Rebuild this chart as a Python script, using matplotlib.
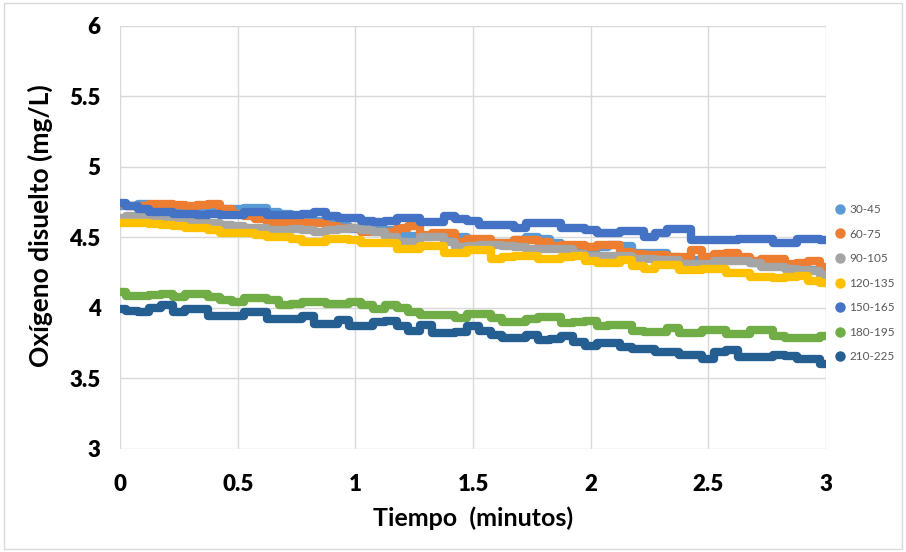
import numpy as np
import matplotlib
matplotlib.use("Agg")
import matplotlib.pyplot as plt
from matplotlib.lines import Line2D
from matplotlib.patches import Rectangle

plt.rcParams['font.family'] = ['Lato', 'DejaVu Sans']

# Time axis (minutes), one reading every 0.05 min
tiempo = np.round(np.arange(0, 3.0001, 0.05), 2)

labels = ["30-45", "60-75", "90-105", "120-135", "150-165", "180-195", "210-225"]
colors = ["#5B9BD5", "#ED7D31", "#A5A5A5", "#FFC000", "#4472C4", "#70AD47", "#255E91"]

od_30_45 = [4.72, 4.72, 4.74, 4.73, 4.71, 4.72, 4.70, 4.70, 4.69, 4.70,
            4.70, 4.71, 4.71, 4.68, 4.67, 4.65, 4.63, 4.62, 4.60, 4.58,
            4.56, 4.56, 4.55, 4.55, 4.52, 4.51, 4.50, 4.51, 4.49, 4.50,
            4.48, 4.47, 4.46, 4.46, 4.48, 4.505, 4.49, 4.46, 4.44, 4.42,
            4.42, 4.43, 4.45, 4.44, 4.39, 4.39, 4.39, 4.36, 4.35, 4.34,
            4.35, 4.34, 4.34, 4.34, 4.32, 4.31, 4.30, 4.29, 4.27, 4.27,
            4.26]
od_60_75 = [4.74, 4.72, 4.72, 4.74, 4.74, 4.73, 4.72, 4.73, 4.74, 4.70,
            4.67, 4.65, 4.63, 4.61, 4.61, 4.62, 4.60, 4.60, 4.58, 4.565,
            4.565, 4.54, 4.54, 4.54, 4.57, 4.585, 4.52, 4.53, 4.53, 4.47,
            4.49, 4.49, 4.46, 4.46, 4.48, 4.48, 4.47, 4.44, 4.45, 4.45,
            4.43, 4.45, 4.45, 4.40, 4.38, 4.375, 4.375, 4.36, 4.36, 4.41,
            4.36, 4.38, 4.39, 4.36, 4.33, 4.35, 4.35, 4.31, 4.32, 4.33,
            4.29]
od_90_105 = [4.64, 4.65, 4.65, 4.65, 4.63, 4.61, 4.61, 4.60, 4.60, 4.59,
             4.58, 4.57, 4.57, 4.55, 4.55, 4.56, 4.55, 4.54, 4.55, 4.56,
             4.57, 4.55, 4.54, 4.50, 4.47, 4.47, 4.50, 4.505, 4.47, 4.435,
             4.44, 4.45, 4.45, 4.44, 4.43, 4.42, 4.42, 4.42, 4.42, 4.38,
             4.37, 4.37, 4.37, 4.37, 4.35, 4.35, 4.34, 4.34, 4.31, 4.31,
             4.31, 4.33, 4.33, 4.33, 4.32, 4.29, 4.29, 4.28, 4.27, 4.26,
             4.235]
od_120_135 = [4.60, 4.60, 4.60, 4.595, 4.59, 4.58, 4.565, 4.565, 4.55, 4.53,
              4.53, 4.53, 4.52, 4.505, 4.50, 4.49, 4.47, 4.47, 4.49, 4.49,
              4.48, 4.46, 4.46, 4.46, 4.42, 4.42, 4.44, 4.44, 4.39, 4.39,
              4.41, 4.41, 4.35, 4.36, 4.37, 4.37, 4.35, 4.35, 4.36, 4.37,
              4.33, 4.32, 4.32, 4.34, 4.30, 4.28, 4.305, 4.305, 4.27, 4.27,
              4.28, 4.28, 4.245, 4.245, 4.22, 4.22, 4.21, 4.22, 4.225, 4.19,
              4.175]
od_150_165 = [4.745, 4.72, 4.70, 4.68, 4.68, 4.67, 4.67, 4.66, 4.67, 4.66,
              4.66, 4.68, 4.68, 4.66, 4.66, 4.66, 4.67, 4.68, 4.65, 4.64,
              4.64, 4.62, 4.61, 4.62, 4.64, 4.64, 4.61, 4.61, 4.65, 4.63,
              4.62, 4.59, 4.59, 4.59, 4.57, 4.60, 4.60, 4.60, 4.57, 4.57,
              4.55, 4.53, 4.53, 4.545, 4.545, 4.505, 4.53, 4.56, 4.56, 4.48,
              4.48, 4.48, 4.48, 4.49, 4.49, 4.49, 4.46, 4.46, 4.49, 4.49,
              4.48]
od_180_195 = [4.115, 4.085, 4.085, 4.09, 4.10, 4.075, 4.10, 4.10, 4.075, 4.06,
              4.04, 4.07, 4.07, 4.055, 4.02, 4.025, 4.045, 4.045, 4.03, 4.03,
              4.04, 4.02, 3.99, 4.02, 4.00, 3.97, 3.95, 3.95, 3.95, 3.93,
              3.955, 3.955, 3.93, 3.90, 3.90, 3.92, 3.935, 3.935, 3.895, 3.90,
              3.91, 3.87, 3.88, 3.88, 3.84, 3.83, 3.83, 3.855, 3.82, 3.82,
              3.845, 3.845, 3.815, 3.815, 3.845, 3.845, 3.80, 3.785, 3.785, 3.79,
              3.80]
od_210_225 = [3.99, 3.98, 3.97, 4.00, 4.02, 3.97, 3.99, 3.99, 3.94, 3.94,
              3.94, 3.97, 3.97, 3.92, 3.92, 3.92, 3.94, 3.89, 3.89, 3.915,
              3.87, 3.87, 3.90, 3.91, 3.87, 3.84, 3.88, 3.82, 3.82, 3.83,
              3.87, 3.84, 3.81, 3.79, 3.79, 3.81, 3.77, 3.78, 3.80, 3.76,
              3.73, 3.75, 3.75, 3.72, 3.71, 3.71, 3.69, 3.69, 3.67, 3.67,
              3.64, 3.69, 3.70, 3.65, 3.65, 3.65, 3.67, 3.66, 3.64, 3.64,
              3.60]

series = [od_30_45, od_60_75, od_90_105, od_120_135, od_150_165, od_180_195, od_210_225]

fig = plt.figure(figsize=(9.06, 5.52), dpi=100)
ax = fig.add_axes([0.1325, 0.1866, 0.7792, 0.7663])

for vals, col in zip(series, colors):
    ax.plot(tiempo, vals, color=col, lw=6.0, drawstyle="steps-mid",
            solid_capstyle="round", solid_joinstyle="round", zorder=3)

ax.set_xlim(0, 3)
ax.set_ylim(3, 6)
ax.set_xticks(np.arange(0, 3.01, 0.5))
ax.set_yticks(np.arange(3, 6.01, 0.5))
ax.set_xticklabels(["0", "0.5", "1", "1.5", "2", "2.5", "3"])
ax.set_yticklabels(["3", "3.5", "4", "4.5", "5", "5.5", "6"])
ax.tick_params(axis="both", length=0, labelsize=16)
ax.tick_params(axis="y", pad=14)
ax.tick_params(axis="x", pad=18)
for lab in ax.get_xticklabels() + ax.get_yticklabels():
    lab.set_fontweight("heavy")

ax.grid(True, color="#D9D9D9", lw=1.0, zorder=0)
ax.set_axisbelow(True)
for s in ax.spines.values():
    s.set_visible(False)

ax.set_xlabel("Tiempo  (minutos)", fontsize=18, fontweight="bold")
ax.set_ylabel("Oxígeno disuelto (mg/L)", fontsize=19, fontweight="bold")
ax.xaxis.set_label_coords(0.5, -0.135)
ax.yaxis.set_label_coords(-0.095, 0.527)

handles = [Line2D([], [], ls="none", marker="o", markersize=6.5,
                  markerfacecolor=c, markeredgecolor=c) for c in colors]
leg = fig.legend(handles, labels, loc="center left",
                 bbox_to_anchor=(0.918, 0.487), frameon=False, fontsize=8.5,
                 labelspacing=1.15, handlelength=0.6, handletextpad=0.5,
                 borderaxespad=0)
for t in leg.get_texts():
    t.set_color("#595959")

fig.patches.append(Rectangle((0.004, 0.005), 0.992, 0.99, transform=fig.transFigure,
                             fill=False, edgecolor="#D9D9D9", lw=1.0))

fig.savefig("out.png", dpi=100)
